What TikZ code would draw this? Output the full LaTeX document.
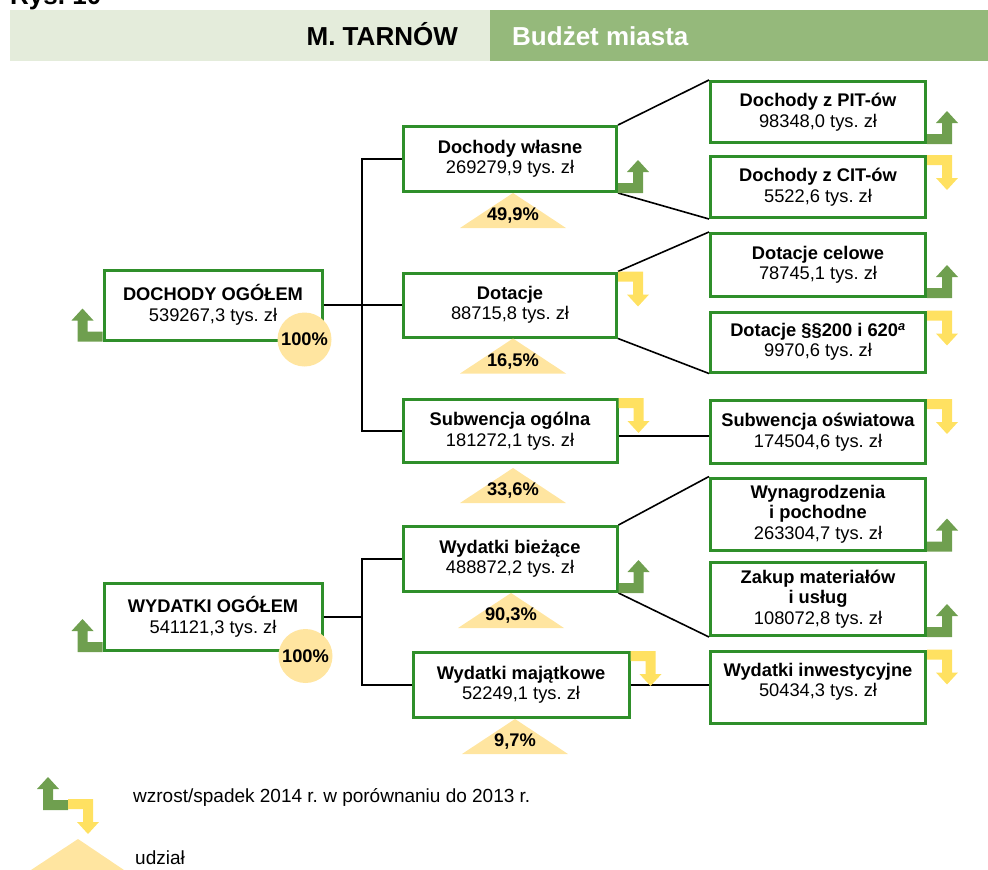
\documentclass[tikz,border=0pt]{standalone}
\usepackage{fontspec}
\setmainfont{Liberation Sans}
\usetikzlibrary{calc}
\frenchspacing

\definecolor{pasjasny}{HTML}{E4ECDB}
\definecolor{pasciemny}{HTML}{95B97B}
\definecolor{ramka}{HTML}{2F8F2A}
\definecolor{zielony}{HTML}{6F9F4F}
\definecolor{zolty}{HTML}{FFE161}
\definecolor{udzialkolor}{HTML}{FFE5A0}

\begin{document}
\begin{tikzpicture}[
    x=1pt, y=-1pt, % 1 px obrazu = 1 pt, os y w dol
    box/.style={
        draw=ramka, % zielona ramka
        line width=3pt, % gruba ramka
        fill=white,
        align=center,
        inner sep=1pt,
        minimum width=215pt,
        font=\fontsize{18.3}{20.5}\selectfont
    },
    lacznik/.style={line width=1.6pt}, % linie drzewa
    procent/.style={font=\bfseries\fontsize{18.3}{20}\selectfont, inner sep=0pt}, % udzial
    kolo/.style={circle, fill=udzialkolor, minimum size=54pt, inner sep=0pt,
        font=\bfseries\fontsize{18.3}{20}\selectfont}, % 100%
    pics/wzrost/.style={code={ % strzalka w gore
        \fill[zielony] (0,0) -- (25,0) -- (25,-21) -- (31,-21) -- (20,-33)
            -- (9,-21) -- (15,-21) -- (15,-10) -- (0,-10) -- cycle;}},
    pics/spadek/.style={code={ % strzalka w dol
        \fill[zolty] (0,0) -- (25,0) -- (25,23) -- (31,23) -- (20,35)
            -- (9,23) -- (15,23) -- (15,10) -- (0,10) -- cycle;}}
]
    \useasboundingbox (0,0) rectangle (988,870);

    % naglowek
    \node[anchor=base west, inner sep=0pt, font=\bfseries\fontsize{26}{28}\selectfont] (rys) at (10,5) {Rys. 10};
    \fill[pasjasny] (10,10) rectangle (490,61);
    \fill[pasciemny] (490,10) rectangle (988,61);
    \node[anchor=base east, inner sep=0pt, font=\bfseries\fontsize{26}{28}\selectfont] (tarnow) at (458,45) {M. TARNÓW};
    \node[anchor=base west, inner sep=0pt, text=white, font=\bfseries\fontsize{26}{28}\selectfont] (budzet) at (512,45) {Budżet miasta};

    % poziom 1
    \node[box, minimum width=218pt, minimum height=70pt] (dog) at (213,305) {\textbf{DOCHODY OGÓŁEM}\\539267,3 tys. zł};
    \node[box, minimum width=218pt, minimum height=67pt] (wog) at (213,617) {\textbf{WYDATKI OGÓŁEM}\\541121,3 tys. zł};

    % poziom 2
    \node[box, minimum width=213pt, minimum height=65pt] (dw) at (510,159) {\textbf{Dochody własne}\\269279,9 tys. zł};
    \node[box, minimum width=213pt, minimum height=64pt] (dot) at (510,305) {\textbf{Dotacje}\\88715,8 tys. zł};
    \node[box, minimum width=214pt, minimum height=63pt] (sub) at (510,431) {\textbf{Subwencja ogólna}\\181272,1 tys. zł};
    \node[box, minimum width=214pt, minimum height=65pt] (wb) at (510,559) {\textbf{Wydatki bieżące}\\488872,2 tys. zł};
    \node[box, minimum width=216pt, minimum height=65pt] (wm) at (521,685) {\textbf{Wydatki majątkowe}\\52249,1 tys. zł};

    % poziom 3
    \node[box, minimum height=61pt] (pit) at (818,112) {\textbf{Dochody z PIT-ów}\\98348,0 tys. zł};
    \node[box, minimum height=61pt] (cit) at (818,187) {\textbf{Dochody z CIT-ów}\\5522,6 tys. zł};
    \node[box, minimum height=63pt] (dc) at (818,265) {\textbf{Dotacje celowe}\\78745,1 tys. zł};
    \node[box, minimum height=60pt] (d200) at (818,342) {\textbf{Dotacje §§200 i 620\textsuperscript{\textit{a}}}\\9970,6 tys. zł};
    \node[box, minimum height=63pt] (so) at (818,432) {\textbf{Subwencja oświatowa}\\174504,6 tys. zł};
    \node[box, minimum height=72pt] (wip) at (818,514) {\textbf{Wynagrodzenia}\\\textbf{i pochodne}\\263304,7 tys. zł};
    \node[box, minimum height=73pt] (zmu) at (818,599) {\textbf{Zakup materiałów}\\\textbf{i usług}\\108072,8 tys. zł};
    \node[box, minimum height=72pt] (wi) at (818,687) {\textbf{Wydatki inwestycyjne}\\50434,3 tys. zł\rule[-14pt]{0pt}{14pt}};

    % laczniki
    \coordinate (rozw1) at (362,305);
    \coordinate (rozw2) at (wog.east -| rozw1);
    \coordinate (sub-so) at ($(sub.east)+(0,5)$);
    \draw[lacznik] (dog.east) -- (rozw1);
    \draw[lacznik] (dw.west) -| (rozw1) |- (sub.west);
    \draw[lacznik] (rozw1) -- (dot.west);
    \draw[lacznik] (wog.east) -- (rozw2);
    \draw[lacznik] (wb.west) -| (rozw2) |- (wm.west);
    \draw[lacznik] (dw.north east) -- (pit.north west);
    \draw[lacznik] (dw.south east) -- (cit.south west);
    \draw[lacznik] (dot.north east) -- (dc.north west);
    \draw[lacznik] (dot.south east) -- (d200.south west);
    \draw[lacznik] (sub-so) -- (sub-so -| so.west);
    \draw[lacznik] (wb.north east) -- (wip.north west);
    \draw[lacznik] (wb.south east) -- (zmu.south west);
    \draw[lacznik] (wm.east) -- (wm.east -| wi.west);

    % udzialy
    \foreach \wezel/\wartosc/\dx/\dy in {dw/{49,9}/3/0, dot/{16,5}/3/0, sub/{33,6}/3/4, wb/{90,3}/1/0, wm/{9,7}/-6/0} {
        \fill[udzialkolor] ($(\wezel.south)+(\dx,\dy)$) -- ++(53,35) -- ++(-106,0) -- cycle;
        \node[procent] (u-\wezel) at ($(\wezel.south)+(\dx,\dy+23)$) {\wartosc\%};
    }
    \node[kolo] (k-dog) at ($(dog.south east)+(-19,-2)$) {100\%};
    \node[kolo] (k-wog) at ($(wog.south east)+(-18,4)$) {100\%};

    % strzalki zmian
    \pic[xscale=-1] at (dog.south west) {wzrost};
    \pic[xscale=-1] at (wog.south west) {wzrost};
    \pic at (dw.south east) {wzrost};
    \pic at (wb.south east) {wzrost};
    \pic at (pit.south east) {wzrost};
    \pic at (dc.south east) {wzrost};
    \pic at (wip.south east) {wzrost};
    \pic at (zmu.south east) {wzrost};
    \pic at (dot.north east) {spadek};
    \pic at (sub.north east) {spadek};
    \pic at (wm.north east) {spadek};
    \pic at (cit.north east) {spadek};
    \pic at (d200.north east) {spadek};
    \pic at (so.north east) {spadek};
    \pic at (wi.north east) {spadek};

    % legenda
    \coordinate (leg) at (68,810);
    \pic[xscale=-1] at (leg) {wzrost};
    \pic at ($(leg)+(0,-11)$) {spadek};
    \fill[udzialkolor] (78,839) -- (124,870) -- (31,870) -- cycle;
    \node[anchor=west, inner sep=0pt, font=\fontsize{19}{21}\selectfont] (leg-zmiana) at (133,797) {wzrost/spadek 2014 r. w porównaniu do 2013 r.};
    \node[anchor=west, inner sep=0pt, font=\fontsize{19}{21}\selectfont] (leg-udzial) at (135,858) {udział};
\end{tikzpicture}
\end{document}
